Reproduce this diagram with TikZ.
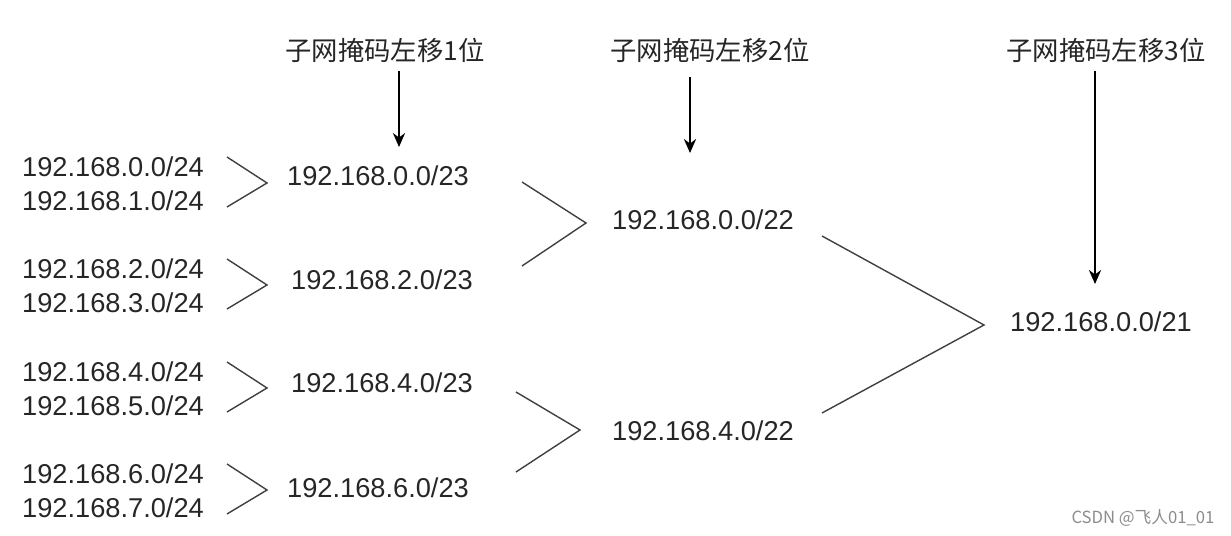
\documentclass[tikz,border=0pt]{standalone}
\usepackage{fontspec}
\setmainfont{Liberation Sans}
\newfontfamily\cjk{Noto Sans CJK SC}
\usetikzlibrary{arrows.meta}

\begin{document}
\begin{tikzpicture}[x=0.02cm, y=-0.02cm,
  ip/.style={font=\fontsize{15.5}{18}\selectfont, text=black!85, inner sep=0pt},
  hdr/.style={font=\cjk\fontsize{15}{18}\selectfont, text=black!85, inner sep=0pt},
  chev/.style={line width=0.8pt, black!75},
  down/.style={-{Stealth[length=8pt, width=7pt]}, line width=0.8pt}]
  \useasboundingbox (0,0) rectangle (1231,536);

  % headers and arrows
  \node[hdr] (h1) at (385,50) {子网掩码左移1位};
  \node[hdr] (h2) at (710,50) {子网掩码左移2位};
  \node[hdr] (h3) at (1106,50) {子网掩码左移3位};
  \coordinate (t1) at (399,147);
  \coordinate (t2) at (690,153);
  \coordinate (t3) at (1095,284);
  \draw[down] (399,71) -- (t1);
  \draw[down] (690,77) -- (t2);
  \draw[down] (1095,71) -- (t3);

  % /24 pairs
  \foreach \i/\j/\y in {0/1/167, 2/3/269, 4/5/372, 6/7/474} {
    \node[ip] (a\i) at (113,\y) {192.168.\i.0/24};
    \node[ip] (a\j) at (113,\y+34) {192.168.\j.0/24};
    \draw[chev] (227,\y-10) -- (267,\y+16) -- (227,\y+40);
  }

  % /23
  \node[ip] (b0) at (378,176) {192.168.0.0/23};
  \node[ip] (b2) at (382,280) {192.168.2.0/23};
  \node[ip] (b4) at (382,383) {192.168.4.0/23};
  \node[ip] (b6) at (378,488) {192.168.6.0/23};
  \draw[chev] (522,182) -- (586,223) -- (522,266);
  \draw[chev] (516,392) -- (580,430) -- (516,472);

  % /22
  \node[ip] (c0) at (703,220) {192.168.0.0/22};
  \node[ip] (c4) at (703,431) {192.168.4.0/22};
  \draw[chev] (822,236) -- (984,325) -- (822,413);

  % /21
  \node[ip] (d0) at (1101,322) {192.168.0.0/21};

  \node[font=\cjk\fontsize{9.5}{11}\selectfont, text=black!45, inner sep=0pt] (wm) at (1143,518) {CSDN @飞人01\_01};
\end{tikzpicture}
\end{document}
